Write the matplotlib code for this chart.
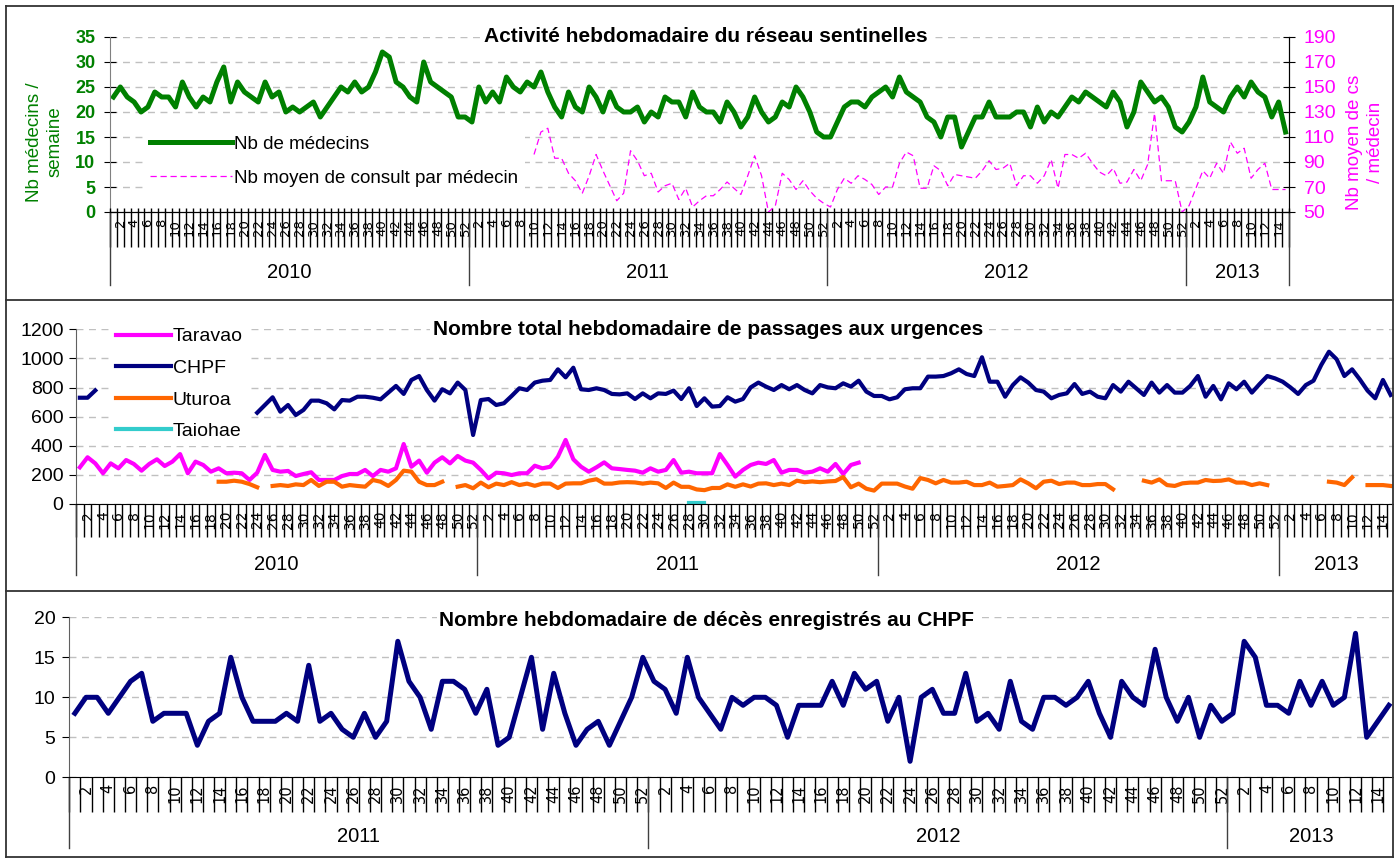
import numpy as np
import matplotlib
matplotlib.use('Agg')
import matplotlib.pyplot as plt
import matplotlib.transforms as mtransforms
from matplotlib.lines import Line2D

plt.rcParams['font.family'] = ['Liberation Sans', 'DejaVu Sans']

N = None

# ---- panel 1 : réseau sentinelles (2010 w1 -> 2013 w15)
years_1 = [2010, 2011, 2012, 2013]
weeks_1 = [52, 52, 52, 15]
medecins_2010 = [23, 25, 23, 22, 20, 21, 24, 23, 23, 21, 26, 23, 21, 23, 22, 26, 29, 22, 26, 24,
                 23, 22, 26, 23, 24, 20, 21, 20, 21, 22, 19, 21, 23, 25, 24, 26, 24, 25, 28, 32,
                 31, 26, 25, 23, 22, 30, 26, 25, 24, 23, 19, 19]
medecins_2011 = [18, 25, 22, 24, 22, 27, 25, 24, 26, 25, 28, 24, 21, 19, 24, 21, 20, 25, 23, 20,
                 24, 21, 20, 20, 21, 18, 20, 19, 23, 22, 22, 19, 24, 21, 20, 20, 18, 22, 20, 17,
                 19, 23, 20, 18, 19, 22, 21, 25, 23, 20, 16, 15]
medecins_2012 = [15, 18, 21, 22, 22, 21, 23, 24, 25, 23, 27, 24, 23, 22, 19, 18, 15, 19, 19, 13,
                 16, 19, 19, 22, 19, 19, 19, 20, 20, 17, 21, 18, 20, 19, 21, 23, 22, 24, 23, 22,
                 21, 24, 22, 17, 20, 26, 24, 22, 23, 21, 17, 16]
medecins_2013 = [18, 21, 27, 22, 21, 20, 23, 25, 23, 26, 24, 23, 19, 22, 16]

consult_2010 = [N] * 52
consult_2011 = [N, N, N, N, N, N, N, N, N, 96, 114, 117, 93, 93, 81, 75, 65, 79, 96, 83,
                71, 59, 65, 99, 91, 79, 81, 66, 71, 73, 60, 69, 54, 59, 63, 63, 68, 74, 69, 64,
                79, 95, 79, 50, 55, 81, 76, 68, 75, 67, 61, 57]
consult_2012 = [54, 68, 77, 73, 79, 76, 72, 64, 70, 70, 89, 98, 95, 69, 69, 87, 83, 71, 80, 79,
                78, 77, 83, 91, 84, 85, 89, 71, 79, 79, 73, 79, 92, 69, 96, 96, 93, 97, 89, 82,
                79, 85, 73, 74, 84, 75, 88, 129, 75, 75, 75, 50]
consult_2013 = [55, 69, 83, 77, 89, 81, 106, 97, 101, 77, 84, 89, 68, 68, 68]

# ---- panel 2 : passages aux urgences (2010 w1 -> 2013 w15)
years_2 = [2010, 2011, 2012, 2013]
weeks_2 = [52, 52, 52, 15]
taravao_2010 = [252, 321, 279, 211, 279, 245, 302, 275, 229, 275, 307, 261, 291, 343, 211, 291,
                268, 222, 245, 211, 215, 211, 165, 215, 337, 234, 222, 227, 192, 206, 218, 165,
                165, 165, 192, 206, 206, 234, 192, 234, 222, 245, 412, 256, 298, 215, 284, 321,
                279, 330, 298, 284]
taravao_2011 = [234, 176, 215, 211, 199, 211, 211, 263, 245, 256, 325, 440, 307, 256, 222, 252,
                286, 245, 240, 234, 229, 215, 245, 222, 234, 302, 215, 222, 211, 211, 211, 343,
                268, 188, 234, 268, 284, 275, 302, 215, 234, 234, 215, 222, 245, 222, 275, 206,
                268, 284, N, N]
taravao_2012 = [N] * 52
taravao_2013 = [N] * 15

chpf_2010 = [730, 730, 780, N, N, N, N, N, N, N, N, N, N, N, N, N, N, N, N, N, N, N, N,
             627, 680, 733, 634, 680, 611, 646, 710, 710, 692, 650, 714, 710, 737, 737, 730,
             719, 765, 811, 756, 852, 879, 783, 710, 788, 760, 834, 783, 474]
chpf_2011 = [714, 721, 680, 692, 742, 795, 783, 834, 847, 852, 925, 870, 936, 788, 783, 795,
             783, 756, 753, 760, 721, 760, 726, 760, 756, 779, 721, 795, 673, 726, 669, 673,
             733, 703, 721, 801, 834, 806, 783, 817, 788, 817, 783, 760, 817, 801, 795, 829,
             806, 847, 772, 742]
chpf_2012 = [742, 719, 733, 788, 795, 795, 875, 875, 879, 898, 925, 893, 879, 1008, 840, 840,
             737, 817, 870, 834, 783, 772, 726, 749, 760, 824, 756, 772, 737, 726, 817, 772,
             840, 795, 749, 834, 765, 817, 765, 765, 811, 879, 737, 811, 719, 829, 788, 840,
             765, 824, 879, 863]
chpf_2013 = [840, 801, 756, 817, 847, 955, 1046, 994, 879, 925, 856, 779, 726, 852, 749]

uturoa_2010 = [N, N, N, N, N, N, N, N, N, N, N, N, N, N, N, N, N, N,
               153, 153, 160, 153, 137, 115, N, 124, 130, 124, 135, 130, 165, 124, 153, 153,
               119, 130, 124, 119, 165, 153, 124, 165, 229, 222, 153, 130, 130, 153, N, 119,
               130, 108]
uturoa_2011 = [147, 115, 140, 130, 150, 130, 140, 125, 140, 140, 110, 140, 142, 142, 160, 170,
               140, 140, 148, 150, 148, 140, 147, 142, 110, 147, 118, 118, 100, 95, 110, 110,
               135, 118, 135, 120, 140, 142, 130, 140, 130, 160, 150, 155, 150, 155, 158, 185,
               115, 140, 105, 92]
uturoa_2012 = [140, 140, 140, 120, 105, 178, 165, 142, 165, 147, 147, 153, 130, 130, 147, 119,
               124, 130, 169, 142, 108, 153, 160, 137, 147, 147, 130, 130, 137, 137, 101, N,
               N, N, 160, 147, 169, 130, 124, 142, 147, 147, 165, 158, 160, 169, 147, 147,
               130, 142, 130, N]
uturoa_2013 = [N, N, N, N, N, N, 153, 147, 130, 183, N, 130, 130, 130, 124]

taiohae_2010 = [N] * 52
taiohae_2011 = [N] * 27 + [5, 5, 5] + [N] * 22
taiohae_2012 = [N] * 52
taiohae_2013 = [N] * 15

# ---- panel 3 : décès CHPF (2011 w1 -> 2013 w15)
years_3 = [2011, 2012, 2013]
weeks_3 = [52, 52, 15]
deces_2011 = [8, 10, 10, 8, 10, 12, 13, 7, 8, 8, 8, 4, 7, 8, 15, 10, 7, 7, 7, 8, 7, 14, 7, 8, 6,
              5, 8, 5, 7, 17, 12, 10, 6, 12, 12, 11, 8, 11, 4, 5, 10, 15, 6, 13, 8, 4, 6, 7, 4,
              7, 10, 15]
deces_2012 = [12, 11, 8, 15, 10, 8, 6, 10, 9, 10, 10, 9, 5, 9, 9, 9, 12, 9, 13, 11, 12, 7, 10, 2,
              10, 11, 8, 8, 13, 7, 8, 6, 12, 7, 6, 10, 10, 9, 10, 12, 8, 5, 12, 10, 9, 16, 10, 7,
              10, 5, 9, 7]
deces_2013 = [8, 17, 15, 9, 9, 8, 12, 9, 12, 9, 10, 18, 5, 7, 9]


def series(*parts):
    return np.array([np.nan if v is None else v for p in parts for v in p], dtype=float)


W, H = 1394, 859
fig = plt.figure(figsize=(W / 100, H / 100), dpi=100)


def rect(l, t, r, b):
    return [l / W, 1 - b / H, (r - l) / W, (b - t) / H]


def cat_axis(ax, years, sizes, h_px, lab_fs, tick_px, sep_px, year_px, cross_px=0):
    # two level category axis: week numbers + years
    weeks = [w for s in sizes for w in range(1, s + 1)]
    n = len(weeks)
    x = np.arange(n)
    ax.set_xlim(-0.5, n - 0.5)
    ax.set_xticks(x)
    ax.set_xticklabels([str(w) if w % 2 == 0 else '' for w in weeks], rotation=90,
                       fontsize=lab_fs, family='DejaVu Sans')
    ax.set_xticks(np.arange(n + 1) - 0.5, minor=True)
    ax.tick_params(axis='x', which='major', length=0, pad=5)
    ax.tick_params(axis='x', which='minor', length=tick_px * 0.72, width=1, color='black')
    trans = mtransforms.blended_transform_factory(ax.transData, ax.transAxes)
    if cross_px:
        ax.vlines(np.arange(n + 1) - 0.5, 0, cross_px / h_px, color='black', lw=1,
                  transform=trans, clip_on=False, zorder=3)
    edges = np.concatenate([[0], np.cumsum(sizes)]) - 0.5
    for e in edges:
        ax.plot([e, e], [0, -sep_px / h_px], color='#404040', lw=1, transform=trans, clip_on=False)
    for i, yr in enumerate(years):
        ax.text((edges[i] + edges[i + 1]) / 2, -year_px / h_px, str(yr), transform=trans,
                ha='center', va='center', fontsize=14.5)
    return x


grid_kw = dict(color='#c0c0c0', lw=1, ls=(0, (5, 4)))

# ================= panel 1
ax1 = fig.add_axes(rect(110, 37, 1289, 212))
x1 = cat_axis(ax1, years_1, weeks_1, 175, 9.5, 35, 73, 60, cross_px=4)
ax1.plot(x1, series(medecins_2010, medecins_2011, medecins_2012, medecins_2013),
         color='#008000', lw=3.6)
ax1.set_ylim(0, 35)
ax1.set_yticks(range(0, 36, 5))
ax1.tick_params(axis='y', direction='inout', length=9, labelcolor='#008000', labelsize=13, pad=6)
for t in ax1.get_yticklabels():
    t.set_fontweight('bold')
ax1.yaxis.grid(True, **grid_kw)
ax1.set_axisbelow(True)
ax1.spines['top'].set_visible(False)
ax1.spines['left'].set_color('#808080')

ax2 = ax1.twinx()
ax2.plot(x1, series(consult_2010, consult_2011, consult_2012, consult_2013),
         color='#FF00FF', lw=0.9, ls=(0, (5, 3)))
ax2.set_ylim(50, 190)
ax2.set_yticks(range(50, 191, 20))
ax2.tick_params(axis='y', direction='inout', length=9, labelcolor='#FF00FF', labelsize=14, pad=6)
ax2.spines['top'].set_visible(False)
ax2.spines['left'].set_visible(False)

h1 = [Line2D([], [], color='#008000', lw=3.6),
      Line2D([], [], color='#FF00FF', lw=0.9, ls=(0, (5, 3)))]
ax2.legend(h1, ['Nb de médecins', 'Nb moyen de consult par médecin'], loc='upper left',
           bbox_to_anchor=(143 / W, 1 - 129 / H), bbox_transform=fig.transFigure,
           fontsize=13.5, handlelength=4.37, handletextpad=0.15, labelspacing=0.9,
           borderpad=0.35, borderaxespad=0, fancybox=False, facecolor='white',
           edgecolor='none', framealpha=1)
ax2.text(0.5055, 1.0, 'Activité hebdomadaire du réseau sentinelles', transform=ax2.transAxes,
         ha='center', va='center', fontsize=15, fontweight='bold',
         bbox=dict(fc='white', ec='none', pad=2))
fig.text(45 / W, 1 - 142 / H, 'Nb médecins /\nsemaine', rotation=90, ha='center', va='center',
         color='#008000', fontsize=13.5, linespacing=1.25)
fig.text(1365 / W, 1 - 142 / H, 'Nb moyen de cs\n/ médecin', rotation=90, ha='center',
         va='center', color='#FF00FF', fontsize=13.5, linespacing=1.25)

# ================= panel 2
ax3 = fig.add_axes(rect(76, 329.3, 1394.5, 504))
x2 = cat_axis(ax3, years_2, weeks_2, 174.7, 10, 33, 71, 60)
ax3.plot(x2, series(taravao_2010, taravao_2011, taravao_2012, taravao_2013),
         color='#FF00FF', lw=3, label='Taravao')
ax3.plot(x2, series(chpf_2010, chpf_2011, chpf_2012, chpf_2013),
         color='#000080', lw=3, label='CHPF')
ax3.plot(x2, series(uturoa_2010, uturoa_2011, uturoa_2012, uturoa_2013),
         color='#FF6600', lw=3, label='Uturoa')
ax3.plot(x2, series(taiohae_2010, taiohae_2011, taiohae_2012, taiohae_2013),
         color='#33CCCC', lw=3, label='Taiohae')
ax3.set_ylim(0, 1200)
ax3.set_yticks(range(0, 1201, 200))
ax3.tick_params(axis='y', direction='out', length=5, labelsize=14, pad=4)
ax3.yaxis.grid(True, **grid_kw)
ax3.set_axisbelow(True)
for s in ['top', 'right']:
    ax3.spines[s].set_visible(False)
ax3.spines['left'].set_color('#606060')
ax3.legend(loc='upper left', bbox_to_anchor=(110 / W, 1 - 322 / H), bbox_transform=fig.transFigure,
           fontsize=14, handlelength=2.83, handletextpad=0.1, labelspacing=0.72,
           borderpad=0.3, borderaxespad=0, fancybox=False, facecolor='white',
           edgecolor='none', framealpha=1)
ax3.text(0.4793, 1.0, 'Nombre total hebdomadaire de passages aux urgences',
         transform=ax3.transAxes, ha='center', va='center', fontsize=15, fontweight='bold',
         bbox=dict(fc='white', ec='none', pad=2))

# ================= panel 3
ax4 = fig.add_axes(rect(69.3, 617.3, 1394.5, 777.3))
x3 = cat_axis(ax4, years_3, weeks_3, 160, 10.5, 35, 71, 59)
ax4.plot(x3, series(deces_2011, deces_2012, deces_2013), color='#000080', lw=3.6)
ax4.set_ylim(0, 20)
ax4.set_yticks(range(0, 21, 5))
ax4.tick_params(axis='y', direction='out', length=5, labelsize=14, pad=5)
ax4.yaxis.grid(True, **grid_kw)
ax4.set_axisbelow(True)
for s in ['top', 'right']:
    ax4.spines[s].set_visible(False)
ax4.spines['left'].set_color('#606060')
ax4.text(0.4812, 0.983, 'Nombre hebdomadaire de décès enregistrés au CHPF',
         transform=ax4.transAxes, ha='center', va='center', fontsize=15, fontweight='bold',
         bbox=dict(fc='white', ec='none', pad=2))

# panel frames
for y in [6, 300, 591, 857]:
    fig.add_artist(Line2D([6 / W, 1393 / W], [1 - y / H, 1 - y / H], color='#333333', lw=1.3))
for x in [6, 1393]:
    fig.add_artist(Line2D([x / W, x / W], [1 - 6 / H, 1 - 857 / H], color='#333333', lw=1.3))

fig.savefig('out.png', dpi=100)
